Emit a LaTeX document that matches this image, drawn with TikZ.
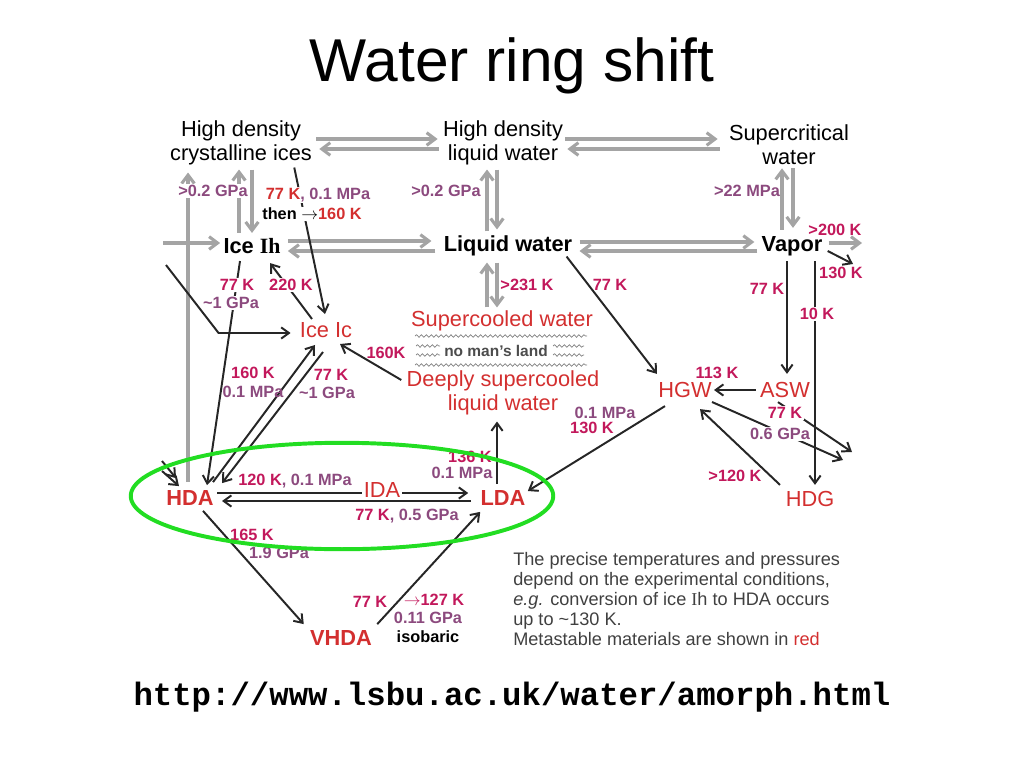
\documentclass[tikz,border=0pt]{standalone}
\usepackage{fontspec}
\setmainfont{Liberation Sans}
\newfontfamily\urlfont{Liberation Mono}
\newfontfamily\serifI{Liberation Serif}
\usetikzlibrary{calc,arrows.meta,decorations.pathmorphing}
\definecolor{kcol}{HTML}{C2185B}
\definecolor{pcol}{HTML}{8C4A7E}
\definecolor{redm}{HTML}{D32F2F}
\definecolor{ringc}{HTML}{22DD22}
\definecolor{gline}{HTML}{A4A4A4}

\begin{document}
\begin{tikzpicture}[x=0.025cm,y=-0.025cm,
	main/.style={font=\fontsize{15.5}{17}\selectfont,inner sep=1.5pt,align=center},
	bmain/.style={main,font=\bfseries\fontsize{15.5}{17}\selectfont},
	redtxt/.style={main,text=redm},
	bredtxt/.style={bmain,text=redm},
	lbl/.style={font=\bfseries\fontsize{11.6}{13}\selectfont,inner sep=1pt},
	kk/.style={lbl,text=kcol},
	pp/.style={lbl,text=pcol},
	garr/.style={draw=gline,line width=2.2pt,-{Straight Barb[length=6pt,width=9pt]}},
	barr/.style={draw=black!85,line width=1.4pt,-{Straight Barb[length=5.5pt,width=8pt]}},
	wavy/.style={draw=gray,line width=0.5pt,decorate,decoration={snake,amplitude=0.9pt,segment length=3.5pt}}]
	\useasboundingbox (0,0) rectangle (1024,768);
	\node (title) at (512,66){\fontsize{43}{48}\selectfont Water ring shift};
	\node (url) at (512,697){\urlfont\bfseries\fontsize{23}{26}\selectfont http://www.lsbu.ac.uk/water/amorph.html};

	\node (HDCI) at (241,143)[main]{High density\\crystalline ices};
	\node (HDLW) at (503,143)[main]{High density\\liquid water};
	\node (SCW) at (789,145)[main]{Supercritical\\water};
	\node (IceIh) at (252,246)[bmain]{Ice {\serifI Ih}};
	\node (LW) at (508,246)[bmain]{Liquid water};
	\node (Vapor) at (792,246)[bmain]{Vapor};
	\node (IceIc) at (326,330)[redtxt]{Ice Ic};
	\node (SCwater) at (502,321)[redtxt]{Supercooled water};
	\node (NML) at (496,351)[font=\bfseries\fontsize{11}{12}\selectfont,text=gray!60!black]{no man's land};
	\node (DSCW) at (503,393)[redtxt]{Deeply supercooled\\liquid water};
	\node (HGW) at (685,390)[redtxt]{HGW};
	\node (ASW) at (785,390)[redtxt]{ASW};
	\node (HDG) at (810,499)[redtxt]{HDG};
	\node (HDA) at (190,498)[bredtxt]{HDA};
	\node (LDA) at (503,498)[bredtxt]{LDA};
	\node (VHDA) at (341,638)[bredtxt]{VHDA};

	\foreach \y in {336,365}
		\draw[wavy] (415,\y) -- (587,\y);
	\foreach \y in {346,355}
		{
		\draw[wavy] (416,\y) -- (440,\y);
		\draw[wavy] (553,\y) -- (584,\y);
		}

	\draw[garr] ($(HDCI.east)+(2,-4)$) -- ($(HDLW.west)+(-3,-4)$);
	\draw[garr] ($(HDLW.west)+(-2,6)$) -- ($(HDCI.east)+(5,6)$);
	\draw[garr] ($(HDLW.east)+(0,-4)$) -- ($(SCW.west)+(-9,-6)$);
	\draw[garr] ($(SCW.west)+(-7,4)$) -- ($(HDLW.east)+(2,6)$);
	\draw[garr] ($(IceIh.east)+(5,-5)$) -- ($(LW.west)+(-10,-5)$);
	\draw[garr] ($(LW.west)+(-6,5)$) -- ($(IceIh.east)+(5,5)$);
	\draw[garr] ($(LW.east)+(5,-4)$) -- ($(Vapor.west)+(-5,-4)$);
	\draw[garr] ($(Vapor.west)+(-2,5)$) -- ($(LW.east)+(5,5)$);
	\draw[garr] ($(IceIh.north)+(-13,-3)$) -- ($(HDCI.south)+(-2,2)$);
	\draw[garr] ($(HDCI.south)+(11,2)$) -- ($(IceIh.north)+(0,-3)$);
	\draw[garr] ($(LW.north)+(-21,-2)$) -- ($(HDLW.south)+(-16,2)$);
	\draw[garr] ($(HDLW.south)+(-6,2)$) -- ($(LW.north)+(-11,-4)$);
	\draw[garr] ($(Vapor.north)+(-10,-4)$) -- ($(SCW.south)+(-7,1)$);
	\draw[garr] ($(SCW.south)+(4,1)$) -- ($(Vapor.north)+(1,-6)$);
	\draw[garr] ($(SCwater.north)+(-15,-1)$) -- ($(LW.south)+(-21,4)$);
	\draw[garr] ($(LW.south)+(-11,4)$) -- ($(SCwater.north)+(-5,-1)$);
	\coordinate (Rwrap) at (862,243);
	\coordinate (Lwrap) at (163,243);
	\draw[garr] ($(Vapor.east)+(4,-3)$) -- (Rwrap);
	\draw[garr] (Lwrap) -- ($(IceIh.west)+(-1,-3)$);
	\draw[garr] ($(HDA.north)+(-2,-6)$) -- ($(HDCI.south)+(-53,5)$);

	\coordinate (R130) at (853,264);
	\coordinate (Rhda1) at (843,460);
	\coordinate (Rhda2) at (852,452);
	\coordinate (Lic) at (166,265);
	\coordinate (Lh1) at (162,461);
	\coordinate (Lh2) at (162,471);
	\draw[barr] ($(Vapor.east)+(3,5)$) -- (R130);
	\draw[barr] ($(Vapor.south)+(-5,3)$) -- ($(ASW.north)+(2,-6)$);
	\draw[barr] ($(Vapor.south)+(23,3)$) -- ($(HDG.north)+(5,-4)$);
	\draw[barr] ($(ASW.west)+(-2,0)$) -- (HGW.east);
	\draw[barr] ($(HDG.north)+(-30,-4)$) -- ($(HGW.south)+(15,9)$);
	\draw[barr] ($(HGW.east)+(-2,12)$) -- (Rhda1);
	\draw[barr] ($(ASW.south)+(-7,2)$) -- (Rhda2);
	\draw[barr] ($(LW.south east)+(-8,-2)$) -- ($(HGW.north west)+(1,-6)$);
	\draw[barr] ($(HGW.south west)+(9,6)$) -- ($(LDA.east)+(0,-7)$);
	\draw[barr] ($(LDA.north)+(-6,-4)$) -- ($(DSCW.south)+(-6,4)$);
	\draw[barr] ($(DSCW.west)+(-3,-13)$) -- ($(IceIc.south)+(14,4)$);
	\draw[barr] ($(HDA.north)+(23,-6)$) -- ($(IceIc.south)+(-11,5)$);
	\draw[barr] ($(IceIc.south)+(-3,12)$) -- ($(HDA.north)+(32,-5)$);
	\draw[barr] ($(IceIh.south)+(-12,5)$) -- ($(HDA.north)+(17,-3)$);
	\draw[barr] ($(IceIc.north)+(-14,-1)$) -- ($(IceIh.south)+(18,7)$);
	\draw[barr] ($(HDCI.south east)+(-20,0)$) -- ($(IceIc.north)+(-1,-6)$);
	\draw[barr] (Lic) -- ($(IceIc.west)+(-79,3)$) -- ($(IceIc.west)+(-7,3)$);
	\draw[barr] ($(HDA.east)+(1,-5)$) -- ($(LDA.west)+(-10,-5)$);
	\draw[barr] ($(LDA.west)+(-7,3)$) -- ($(HDA.east)+(6,3)$);
	\draw[barr] ($(HDA.south)+(13,3)$) -- ($(VHDA.north west)+(-4,-4)$);
	\draw[barr] ($(VHDA.north east)+(3,-4)$) -- ($(LDA.south west)+(2,4)$);
	\draw[barr] (Lh1) -- ($(HDA.north west)+(12,-10)$);
	\draw[barr] (Lh2) -- ($(HDA.north west)+(15,-2)$);

	\node (IDA) at (382,490)[redtxt,fill=white,inner sep=1pt]{IDA};

	\node (pA) at (213,191)[pp,fill=white]{>0.2 GPa};
	\node (tA) at (318,195)[lbl,fill=white]{\textcolor{redm}{77 K}\textcolor{pcol}{, 0.1 MPa}};
	\node (tB) at (312,214)[lbl,fill=white]{then $\rightarrow$\textcolor{redm}{160 K}};
	\node (pB) at (446,191)[pp]{>0.2 GPa};
	\node (pC) at (747,191)[pp]{>22 MPa};
	\node (kA) at (835,230)[kk]{>200 K};
	\node (kB) at (841,273)[kk]{130 K};
	\node (kC) at (237,285)[kk,fill=white]{77 K};
	\node (pD) at (231,303)[pp,fill=white]{\textasciitilde1 GPa};
	\node (kD) at (291,285)[kk,fill=white]{220 K};
	\node (kE) at (527,285)[kk]{>231 K};
	\node (kF) at (610,285)[kk]{77 K};
	\node (kG) at (767,289)[kk]{77 K};
	\node (kH) at (817,314)[kk,fill=white]{10 K};
	\node (kI) at (386,353)[kk]{160K};
	\node (kJ) at (253,373)[kk]{160 K};
	\node (pE) at (253,392)[pp]{0.1 MPa};
	\node (kK) at (331,375)[kk]{77 K};
	\node (pF) at (327,393)[pp]{\textasciitilde1 GPa};
	\node (kL) at (717,373)[kk]{113 K};
	\node (kM) at (785,413)[kk,fill=white]{77 K};
	\node (pG) at (780,434)[pp,fill=white]{0.6 GPa};
	\node (pH) at (605,413)[pp]{0.1 MPa};
	\node (kN) at (592,428)[kk]{130 K};
	\node (kO) at (470,457)[kk]{136 K};
	\node (pI) at (462,473)[pp]{0.1 MPa};
	\node (kP) at (735,476)[kk]{>120 K};
	\node (tC) at (295,481)[lbl]{\textcolor{kcol}{120 K}\textcolor{pcol}{, 0.1 MPa}};
	\node (tD) at (407,516)[lbl]{\textcolor{kcol}{77 K}\textcolor{pcol}{, 0.5 GPa}};
	\node (kQ) at (252,535)[kk]{165 K};
	\node (pJ) at (279,553)[pp]{1.9 GPa};
	\node (kR) at (370,602)[kk]{77 K};
	\node (kS) at (434,600)[kk]{$\rightarrow$127 K};
	\node (pK) at (428,618)[pp]{0.11 GPa};
	\node (bA) at (428,637)[lbl]{isobaric};

	\node (note) at (513,552)[anchor=north west,align=left,inner sep=0pt,text=black!75,font=\fontsize{12.9}{14.2}\selectfont]{The precise temperatures and pressures\\depend on the experimental conditions,\\\textit{e.g.} conversion of ice {\serifI I}h to HDA occurs\\up to \textasciitilde130 K.\\Metastable materials are shown in \textcolor{redm}{red}};

	\draw[ringc,line width=2.8pt] (342,496) ellipse [x radius=5.28cm,y radius=1.33cm];
\end{tikzpicture}
\end{document}
